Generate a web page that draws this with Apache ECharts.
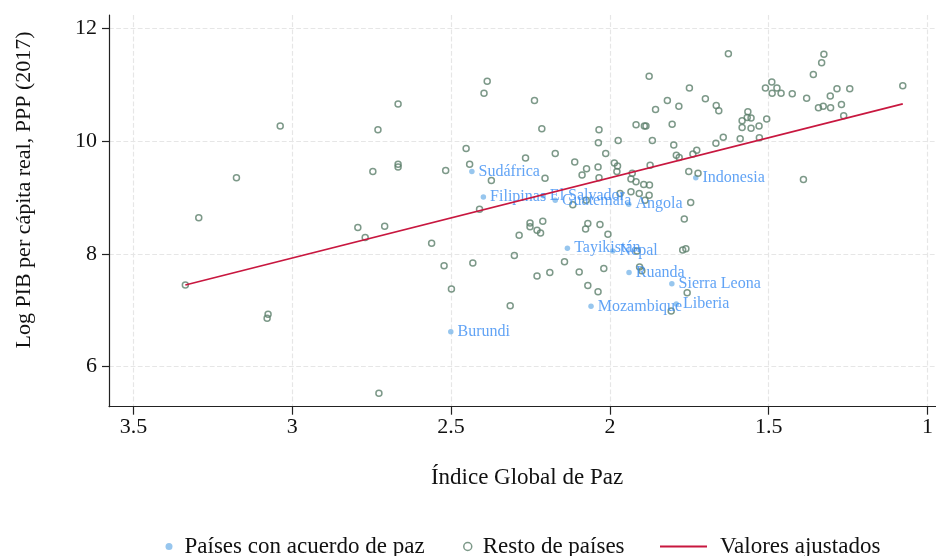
<!DOCTYPE html>
<html>
<head>
<meta charset="utf-8">
<script src="https://cdn.jsdelivr.net/npm/echarts@6/dist/echarts.min.js"></script>
<style>
  html, body { margin: 0; padding: 0; background: #fff; }
  #main { width: 936px; height: 556px; }
</style>
</head>
<body>
<div id="main"></div>
<script>
// Resto de países (hollow markers)
var otherX = [2.673, 3.042, 2.736, 3.179, 2.752, 2.673, 2.673, 3.297, 2.799, 2.715, 2.776, 3.339, 3.080, 3.083, 2.733,
  2.394, 2.404, 2.246, 1.887, 1.761, 1.830, 1.794, 1.867, 2.223, 2.044, 1.928, 1.902, 1.897, 1.815, 2.046,
  1.984, 1.877, 1.810, 2.460, 2.181, 2.023, 1.802, 1.793, 1.738, 1.750, 2.274, 2.120, 1.996, 1.986, 1.884,
  2.449, 2.524, 2.381, 2.213, 2.083, 2.097, 2.047, 2.044, 1.988, 1.940, 1.944, 1.928, 1.904, 1.886, 1.763,
  1.734, 2.418, 1.978, 1.944, 1.918, 1.887, 1.900, 2.126, 2.084, 1.757, 1.777, 2.568, 2.260, 2.260, 2.238,
  2.227, 2.220, 2.294, 2.079, 2.086, 2.041, 2.016, 1.925, 1.782, 1.772, 2.529, 2.439, 2.309, 2.152, 2.029,
  2.106, 2.198, 2.238, 1.917, 1.910, 2.506, 2.079, 2.047, 1.768, 2.322, 1.818,
  1.639, 1.340, 1.347, 1.373, 1.503, 1.523, 1.487, 1.502, 1.474, 1.439, 1.711, 1.677, 1.669, 1.394, 1.299,
  1.259, 1.320, 1.093, 1.357, 1.342, 1.319, 1.285, 1.278, 1.578, 1.596, 1.568, 1.580, 1.596, 1.568, 1.543,
  1.519, 1.655, 1.678, 1.602, 1.542, 1.404];
var otherY = [10.66, 10.27, 10.20, 9.35, 9.46, 9.59, 9.54, 8.64, 8.47, 8.49, 8.29, 7.45, 6.93, 6.86, 5.53,
  11.06, 10.85, 10.72, 11.15, 10.94, 10.72, 10.62, 10.56, 10.22, 10.20, 10.29, 10.27, 10.27, 10.30, 9.97,
  10.01, 10.01, 9.93, 9.87, 9.78, 9.78, 9.75, 9.71, 9.84, 9.77, 9.70, 9.63, 9.61, 9.56, 9.57,
  9.59, 9.48, 9.30, 9.34, 9.51, 9.40, 9.54, 9.35, 9.46, 9.43, 9.33, 9.28, 9.23, 9.22, 9.46,
  9.43, 8.79, 9.07, 9.10, 9.07, 9.04, 8.95, 8.87, 8.95, 8.91, 8.62, 8.19, 8.55, 8.48, 8.42,
  8.37, 8.58, 8.33, 8.54, 8.44, 8.52, 8.35, 8.05, 8.07, 8.09, 7.79, 7.84, 7.97, 7.86, 7.74,
  7.68, 7.67, 7.61, 7.77, 7.70, 7.38, 7.44, 7.33, 7.31, 7.08, 6.99,
  11.55, 11.54, 11.39, 11.18, 11.05, 10.94, 10.94, 10.85, 10.85, 10.84, 10.75, 10.63, 10.54, 10.76, 10.93,
  10.93, 10.80, 10.98, 10.59, 10.62, 10.59, 10.65, 10.45, 10.52, 10.36, 10.41, 10.42, 10.24, 10.23, 10.27,
  10.39, 10.07, 9.96, 10.04, 10.06, 9.32];

// Países con acuerdo de paz (labelled)
var peaceNames = ['Sudáfrica', 'Filipinas', 'El Salvador', 'Guatemala', 'Angola', 'Tayikistán', 'Nepal',
  'Ruanda', 'Sierra Leona', 'Liberia', 'Mozambique', 'Burundi', 'Indonesia'];
var peaceX = [2.442, 2.406, 2.219, 2.181, 1.951, 2.143, 2.001, 1.950, 1.816, 1.802, 2.069, 2.508, 1.741];
var peaceY = [9.46, 9.01, 9.03, 8.95, 8.88, 8.10, 8.05, 7.67, 7.47, 7.11, 7.07, 6.62, 9.35];

// Valores ajustados (fitted line end points)
var fitX = [3.339, 1.093];
var fitY = [7.45, 10.66];

var FONT = 'Liberation Serif';
var GREEN = '#5d7f6c';
var BLUE_DOT = '#7db8ea';
var BLUE_TXT = '#3a8cf2';
var RED = '#c8173f';

var grid = { type: 'dashed', color: '#e6e6e6', width: 1.2 };

var chart = echarts.init(document.getElementById('main'));

var option = {
  animation: false,
  backgroundColor: '#fff',
  grid: [
    // data grid (full axis extent)
    { left: 109, right: 0, top: 15, bottom: 149.3 },
    // x ticks 1..3.5
    { left: 133.5, right: 3.5, top: 15, bottom: 149.3 },
    // y ticks 6..12
    { left: 109, right: 0, top: 28.3, bottom: 189.3 }
  ],
  xAxis: [
    {
      gridIndex: 0, type: 'value', inverse: true, min: 0.989, max: 3.578,
      axisLine: { onZero: false, lineStyle: { color: '#222', width: 1.2 } },
      axisTick: { show: false }, axisLabel: { show: false }, splitLine: { show: false }
    },
    {
      gridIndex: 1, type: 'value', inverse: true, min: 1, max: 3.5, interval: 0.5,
      axisLine: { show: false },
      axisTick: { show: true, length: 8, lineStyle: { color: '#222', width: 1.2 } },
      axisLabel: { fontFamily: FONT, fontSize: 22, color: '#111', margin: 10 },
      splitLine: { show: true, lineStyle: grid }
    },
    { gridIndex: 2, type: 'value', min: 0, max: 1, show: false }
  ],
  yAxis: [
    {
      gridIndex: 0, type: 'value', min: 5.291, max: 12.236,
      axisLine: { show: true, onZero: false, lineStyle: { color: '#222', width: 1.2 } },
      axisTick: { show: false }, axisLabel: { show: false }, splitLine: { show: false }
    },
    { gridIndex: 1, type: 'value', min: 0, max: 1, show: false },
    {
      gridIndex: 2, type: 'value', min: 6, max: 12, interval: 2,
      axisLine: { show: false },
      axisTick: { show: true, length: 7, lineStyle: { color: '#222', width: 1.2 } },
      axisLabel: { fontFamily: FONT, fontSize: 22, color: '#111', margin: 12 },
      splitLine: { show: true, lineStyle: grid }
    }
  ],
  legend: [
    {
      data: [{ name: 'Países con acuerdo de paz', icon: 'circle' }],
      left: 165.5, top: 535, padding: 0, itemWidth: 7, itemHeight: 7,
      textStyle: { fontFamily: FONT, fontSize: 23, color: '#111', padding: [0, 0, 0, 7] }
    },
    {
      data: [{ name: 'Resto de países', icon: 'circle' }],
      left: 463, top: 535, padding: 0, itemWidth: 8, itemHeight: 8,
      itemStyle: { color: 'transparent', borderColor: GREEN, borderWidth: 1.5 },
      textStyle: { fontFamily: FONT, fontSize: 23, color: '#111', padding: [0, 0, 0, 6] }
    },
    {
      data: [{ name: 'Valores ajustados', icon: 'rect' }],
      left: 660, top: 535, padding: 0, itemWidth: 47, itemHeight: 2,
      textStyle: { fontFamily: FONT, fontSize: 23, color: '#111', padding: [0, 0, 0, 8] }
    }
  ],
  graphic: [
    {
      type: 'text', x: 24, y: 190, rotation: Math.PI / 2,
      style: { text: 'Log PIB per cápita real, PPP (2017)', font: '22px "Liberation Serif"',
        fill: '#111', align: 'center', verticalAlign: 'middle' }
    },
    {
      type: 'text', x: 527, y: 478,
      style: { text: 'Índice Global de Paz', font: '23px "Liberation Serif"',
        fill: '#111', align: 'center', verticalAlign: 'middle' }
    }
  ],
  series: [
    {
      name: 'Países con acuerdo de paz', type: 'scatter', xAxisIndex: 0, yAxisIndex: 0,
      symbol: 'circle', symbolSize: 5.5,
      itemStyle: { color: BLUE_DOT },
      label: { show: true, position: 'right', distance: 4, formatter: '{b}',
        fontFamily: FONT, fontSize: 16, color: BLUE_TXT },
      data: peaceNames.map(function (n, i) { return { name: n, value: [peaceX[i], peaceY[i]] }; })
    },
    {
      name: 'Resto de países', type: 'scatter', xAxisIndex: 0, yAxisIndex: 0,
      symbol: 'circle', symbolSize: 6,
      itemStyle: { color: 'transparent', borderColor: GREEN, borderWidth: 1.5 },
      data: otherX.map(function (x, i) { return [x, otherY[i]]; })
    },
    {
      name: 'Valores ajustados', type: 'line', xAxisIndex: 0, yAxisIndex: 0,
      symbol: 'none', lineStyle: { color: RED, width: 1.6 }, itemStyle: { color: RED },
      data: fitX.map(function (x, i) { return [x, fitY[i]]; })
    }
  ]
};

chart.setOption(option);
</script>
</body>
</html>
